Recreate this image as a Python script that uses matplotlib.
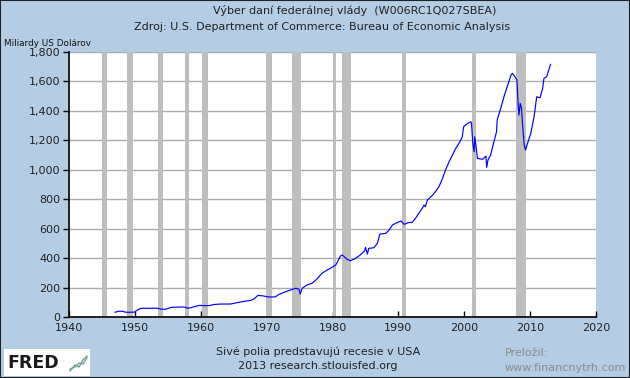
import matplotlib
matplotlib.use("Agg")
import matplotlib.pyplot as plt
from matplotlib.patches import Rectangle
from matplotlib.lines import Line2D

# ---- data ----
years = [1947.0, 1947.5, 1948.2, 1948.5, 1949.0, 1949.9, 1950.3, 1950.7, 1951.0, 1952.0,
         1953.0, 1953.5, 1954.0, 1954.6, 1955.3, 1955.7, 1956.5, 1957.5, 1958.0, 1958.5,
         1959.0, 1959.8, 1960.5, 1961.4, 1962.0, 1963.0, 1964.5, 1965.5, 1966.5, 1967.5,
         1968.0, 1968.7, 1969.5, 1970.3, 1971.3, 1971.9, 1972.5, 1973.6, 1974.4, 1974.9,
         1975.1, 1975.4, 1976.1, 1976.9, 1977.6, 1978.4, 1979.2, 1979.9, 1980.5, 1981.2,
         1981.5, 1982.2, 1982.7, 1983.5, 1984.2, 1984.9, 1985.0, 1985.3, 1985.5, 1986.3,
         1986.8, 1987.2, 1988.1, 1988.6, 1989.1, 1989.9, 1990.4, 1990.9, 1991.5, 1992.1,
         1992.6, 1993.1, 1993.6, 1993.9, 1994.1, 1994.4, 1995.2, 1995.7, 1996.2, 1996.7,
         1997.2, 1997.7, 1998.2, 1998.7, 1999.2, 1999.7, 1999.9, 2000.5, 2001.0, 2001.1,
         2001.3, 2001.5, 2001.6, 2001.8, 2002.0, 2002.8, 2003.3, 2003.4, 2003.6, 2004.0,
         2004.5, 2004.9, 2005.0, 2005.5, 2006.1, 2006.6, 2007.1, 2007.3, 2007.7, 2008.0,
         2008.2, 2008.3, 2008.5, 2008.7, 2008.8, 2009.1, 2009.3, 2009.6, 2010.1, 2010.6,
         2011.0, 2011.5, 2011.9, 2012.1, 2012.5, 2013.1]
receipts = [32, 39, 39, 33, 32, 33, 45, 55, 59, 59,
            60, 59, 53, 52, 62, 66, 67, 68, 60, 63,
            70, 79, 77, 78, 85, 88, 88, 97, 106, 112,
            120, 147, 143, 136, 136, 154, 165, 183, 195, 190,
            156, 195, 217, 229, 256, 297, 319, 337, 353, 414,
            421, 392, 382, 398, 421, 450, 473, 428, 466, 471,
            500, 564, 568, 591, 625, 643, 652, 629, 641, 643,
            670, 704, 738, 760, 749, 794, 828, 856, 889, 941,
            1003, 1055, 1100, 1145, 1179, 1224, 1292, 1315, 1326, 1315,
            1179, 1122, 1224, 1156, 1077, 1071, 1093, 1016, 1066, 1100,
            1190, 1258, 1338, 1412, 1507, 1575, 1643, 1655, 1632, 1609,
            1428, 1372, 1451, 1417, 1338, 1168, 1134, 1179, 1247, 1360,
            1496, 1489, 1553, 1621, 1632, 1716]

rec_start = [1945.08, 1948.83, 1953.50, 1957.58, 1960.25, 1969.92, 1973.83, 1980.0, 1981.5, 1990.5, 2001.17, 2007.92]
rec_end   = [1945.75, 1949.75, 1954.33, 1958.25, 1961.08, 1970.83, 1975.17, 1980.5, 1982.83, 1991.17, 2001.83, 2009.42]

x_ticks = [1940, 1950, 1960, 1970, 1980, 1990, 2000, 2010, 2020]
y_ticks = [0, 200, 400, 600, 800, 1000, 1200, 1400, 1600, 1800]
y_labels = ["0", "200", "400", "600", "800", "1,000", "1,200", "1,400", "1,600", "1,800"]

BG = "#B4CDE5"
plt.rcParams['font.family'] = ['DejaVu Sans']

fig = plt.figure(figsize=(6.3, 3.78), dpi=100, facecolor=BG)
ax = fig.add_axes([69/630, 1-317/378, (596-69)/630, (317-52)/378])
ax.set_facecolor("white")

for s, e in zip(rec_start, rec_end):
    ax.axvspan(s, e, color="#BEBEBE", lw=0, zorder=1)

ax.set_xlim(1940, 2020)
ax.set_ylim(0, 1800)
ax.set_yticks(y_ticks)
ax.set_yticklabels(y_labels)
ax.set_xticks(x_ticks)
ax.grid(axis="y", color="#ABABAB", lw=1, zorder=0.5)
ax.set_axisbelow(True)
ax.plot(years, receipts, color="#0000FF", lw=0.85, zorder=3)

for sp in ["top", "right"]:
    ax.spines[sp].set_visible(False)
for sp in ["left", "bottom"]:
    ax.spines[sp].set_color("black")
    ax.spines[sp].set_linewidth(1.2)
    ax.spines[sp].set_zorder(4)
ax.tick_params(axis="y", direction="out", length=4, width=1, labelsize=8, colors="black", pad=2)
ax.tick_params(axis="x", direction="in", length=4, width=1, labelsize=8, pad=4)
for lbl in ax.get_xticklabels() + ax.get_yticklabels():
    lbl.set_color("#222222")

# titles
fig.text(355/630, 1-11/378, "Výber daní federálnej vlády  (W006RC1Q027SBEA)", ha="center", va="center", fontsize=8, color="#222222")
fig.text(322/630, 1-27/378, "Zdroj: U.S. Department of Commerce: Bureau of Economic Analysis", ha="center", va="center", fontsize=8, color="#222222")
fig.text(4/630, 1-44/378, "Miliardy US Dolárov", ha="left", va="center", fontsize=6.4, color="#111111")

# footer
fig.text(318/630, 1-352/378, "Sivé polia predstavujú recesie v USA", ha="center", va="center", fontsize=8, color="#222222")
fig.text(318/630, 1-366/378, "2013 research.stlouisfed.org", ha="center", va="center", fontsize=8, color="#222222")
fig.text(505/630, 1-353/378, "Preložil:", ha="left", va="center", fontsize=8, color="#8C8C8C")
fig.text(505/630, 1-368/378, "www.financnytrh.com", ha="left", va="center", fontsize=8, color="#8C8C8C")

# FRED logo
fig.patches.append(Rectangle((4/630, 1-376/378), 86/630, 27/378, transform=fig.transFigure,
                             facecolor="white", edgecolor="none", zorder=1))
fig.text(7/630, 1-363/378, "FRED", ha="left", va="center", fontsize=12.5, fontweight="bold",
         color="#1A1A1A", zorder=2)
fig.lines.append(Line2D([70/630, 75/630, 79/630, 83/630, 87/630],
                        [1-371/378, 1-365/378, 1-367/378, 1-360/378, 1-356/378],
                        transform=fig.transFigure, color="#6CA35E", lw=1, zorder=3))
fig.lines.append(Line2D([70/630, 75/630, 79/630, 83/630, 87/630],
                        [1-369/378, 1-367/378, 1-363/378, 1-364/378, 1-358/378],
                        transform=fig.transFigure, color="#7A9CC6", lw=1, zorder=3))

# figure border
fig.patches.append(Rectangle((0, 0), 1, 1, transform=fig.transFigure, facecolor="none",
                             edgecolor="#222222", lw=1.5, zorder=10))

fig.savefig("out.png", dpi=100, facecolor=BG)
